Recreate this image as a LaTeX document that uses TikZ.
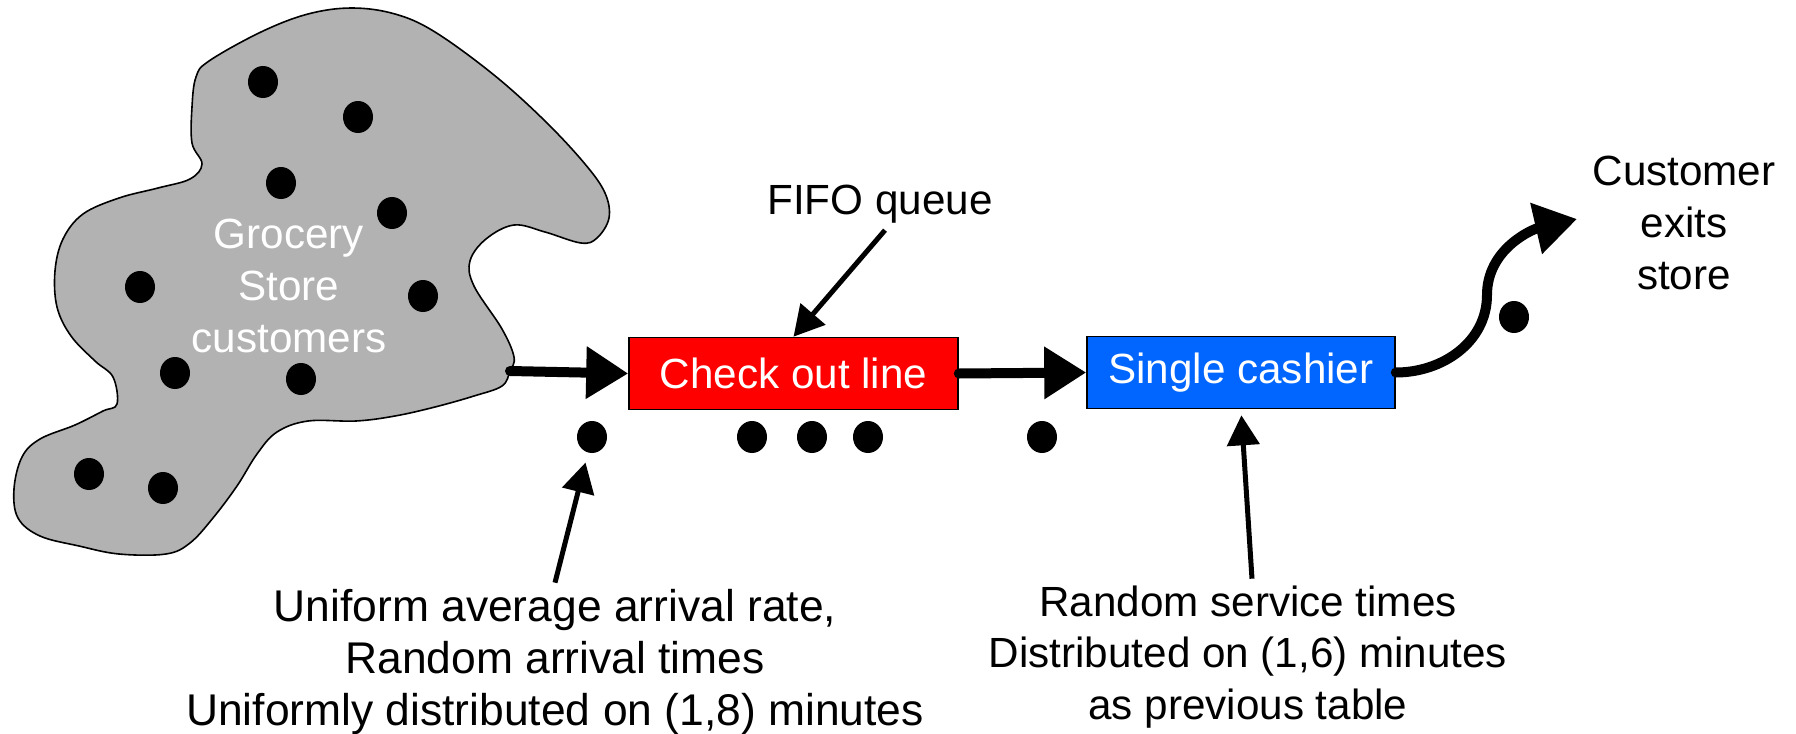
\documentclass[tikz,border=0pt]{standalone}
\usepackage{fontspec}
\setmainfont{Liberation Sans}
\usetikzlibrary{arrows.meta,shapes.geometric}

\definecolor{storegray}{RGB}{178,178,178}
\definecolor{checkred}{RGB}{255,0,0}
\definecolor{cashblue}{RGB}{0,102,255}

\begin{document}
\begin{tikzpicture}[x=0.5pt, y=-0.5pt,
    every node/.style={font=\fontsize{21.1}{25.8}\selectfont, align=center},
    box/.style={draw=black, line width=0.8pt, minimum height=36pt, inner sep=0pt},
    dot/.style={ellipse, fill=black, inner sep=0pt, minimum width=15pt, minimum height=16pt},
    flow/.style={line width=5pt, line cap=round, -{Triangle[length=21pt,width=25pt]}},
    pointer/.style={line width=2.5pt, -{Triangle[length=15pt,width=16pt]}}]
    \useasboundingbox (0,0) rectangle (1796,734);

    % the store (blob)
    \draw[fill=storegray, line width=0.8pt] plot[smooth cycle, tension=0.6] coordinates {
        (510,371) (514,357) (502,329) (474,286) (470,261) (486,239) (514,225)
        (545,232) (581,243) (597,238) (609,218) (605,193) (585,164) (545,121)
        (494,75) (435,32) (395,14) (352,8) (308,14) (261,32) (209,61) (196,77)
        (192,107) (192,143) (202,164) (190,179) (158,188) (119,198) (83,214)
        (63,239) (55,271) (57,307) (71,336) (95,361) (113,377) (117,404)
        (103,411) (75,425) (40,439) (22,457) (14,489) (18,518) (40,536)
        (79,546) (119,554) (166,554) (190,543) (213,518) (237,486) (257,454)
        (277,432) (308,421) (356,421) (395,416) (435,407) (474,396) (502,386)};
    \coordinate (storeout) at (510,371);

    % customers in the store
    \foreach \px/\py in {263/82, 358/117, 281/183, 392/213, 140/287,
                         423/296, 175/373, 301/379, 89/474, 163/488}
        \fill (\px,\py) ellipse [x radius=7.5pt, y radius=8pt];
    \node[text=white] (store) at (289,286) {Grocery\\Store\\customers};

    % queue and server
    \node[box, fill=checkred, text=white, minimum width=164.5pt] (check) at (793.5,373.5) {Check out line};
    \node[box, fill=cashblue, text=white, minimum width=154pt] (cashier) at (1241,372.5) {Single cashier};

    % waiting customers
    \node[dot] (arrdot) at (592,437) {};
    \foreach \px/\py in {752/437, 812/437, 868/437, 1042/437, 1514/317}
        \fill (\px,\py) ellipse [x radius=7.5pt, y radius=8pt];

    % labels
    \node (fifo) at (880,204) {FIFO queue};
    \node (exits) at (1684,223) {Customer\\exits\\store};
    \node[font=\fontsize{22.2}{25.8}\selectfont] (arrival) at (555,662) {Uniform average arrival rate,\\Random arrival times\\Uniformly distributed on (1,8) minutes};
    \node (service) at (1248,657) {Random service times\\Distributed on (1,6) minutes\\as previous table};

    % flow of customers
    \coordinate (exitbend) at (1487,295);
    \coordinate (exitend) at (1577,219);
    \draw[flow] (storeout) -- (check.west);
    \draw[flow] (check.east) -- (cashier.west);
    \draw[flow] (cashier.east) to[out=0, in=-90] (exitbend) to[out=90, in=193] (exitend);

    % pointers
    \draw[pointer] ([xshift=2.5pt]fifo.south) -- (check.north);
    \draw[pointer, shorten >=5pt] (arrival.north) -- (arrdot);
    \draw[pointer, shorten >=3pt] ([xshift=2pt]service.north) -- (cashier.south);
\end{tikzpicture}
\end{document}
